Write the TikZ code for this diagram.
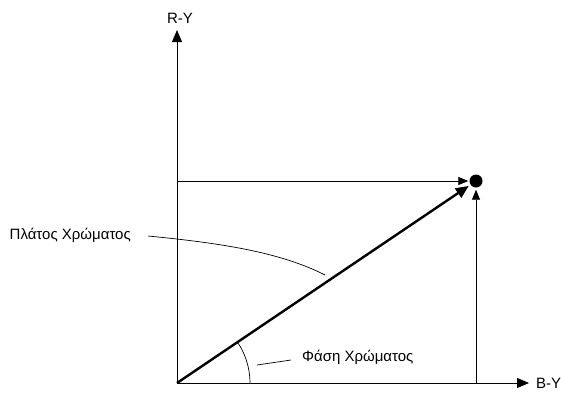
\documentclass[tikz,border=0pt]{standalone}
\usepackage{fontspec}
\setmainfont{Liberation Sans}
\usetikzlibrary{arrows.meta,angles,positioning}

\tikzset{
	axis/.style={line width=0.9pt,-{Triangle[length=12pt,width=10pt]}},
	guide/.style={line width=0.8pt,-{Triangle[length=10pt,width=8pt]}},
	vec/.style={line width=2.4pt,-{Triangle[length=13pt,width=11pt]}},
	lbl/.style={font=\fontsize{15}{17}\selectfont,inner sep=0pt}
}

\begin{document}
\begin{tikzpicture}[x=1pt,y=-1pt]
	\useasboundingbox (0,0) rectangle (561,394);
	\coordinate (O) at (177,383);
	\coordinate (Ytop) at (177,30);
	\coordinate (Xend) at (529,383);
	\coordinate (Ymark) at (177,181);
	\coordinate (Xmark) at (476,383);
	\node[circle,fill,minimum size=13pt,inner sep=0pt] (P) at (476,181) {};
	
	% axes
	\draw[axis] (O) -- (Ytop);
	\draw[axis] (O) -- (Xend);
	\node[lbl,anchor=south] (ry) at (180,24) {R-Y};
	\node[lbl,anchor=west] (by) at (536,383) {B-Y};
	
	% projections
	\draw[guide,shorten >=1pt] (Ymark) -- (P);
	\draw[guide,shorten >=2pt] (Xmark) -- (P);
	
	% chroma vector
	\draw[vec,shorten >=2pt] (O) -- (P);
	
	% amplitude
	\node[lbl,anchor=east] (amp) at (131,235) {Πλάτος Χρώματος};
	\coordinate (ampend) at (325,275);
	\draw[line width=0.7pt] (148,236) .. controls (220,243) and (280,252) .. (ampend);
	
	% phase
	\pic[draw,line width=0.7pt,angle radius=73pt] {angle=Xend--O--P};
	\node[lbl,anchor=west] (ph) at (302,357) {Φάση Χρώματος};
	\coordinate (phstart) at (257,365);
	\draw[line width=0.7pt] (phstart) -- (291,360);
\end{tikzpicture}
\end{document}
